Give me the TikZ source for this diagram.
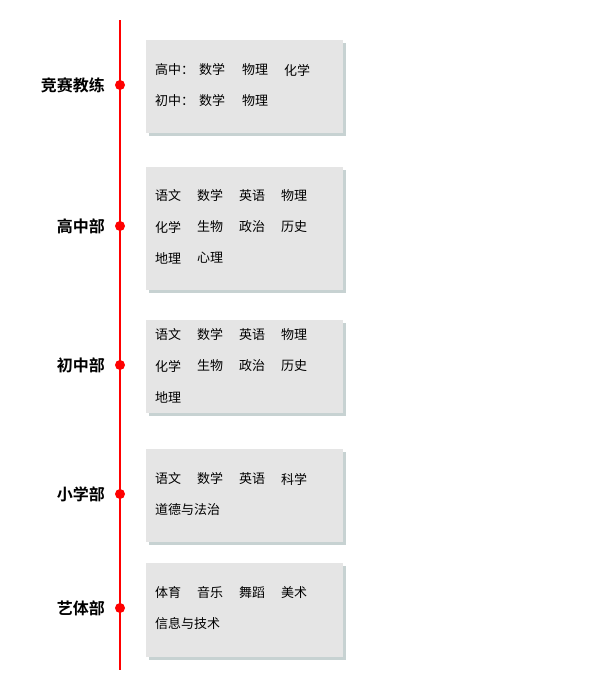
\documentclass[tikz,border=0pt]{standalone}
\usepackage{fontspec}
\newfontfamily\cjk{Noto Sans CJK SC}
\newfontfamily\cjkb{Noto Sans CJK SC Bold}
\begin{document}
\begin{tikzpicture}[x=1pt,y=-1pt,
  card/.style={fill=black!10,draw=none},
  shade/.style={fill=teal!25!gray!35,draw=none},
  word/.style={anchor=west,inner sep=0,font=\cjk\fontsize{13}{13}\selectfont},
  dept/.style={anchor=east,inner sep=0,font=\cjkb\fontsize{16}{16}\selectfont},
  dot/.style={circle,fill=red,inner sep=0,minimum size=10pt}]
\useasboundingbox (0,0) rectangle (607,691);
\draw[red,line width=1.6pt] (120,20) coordinate (ltop) -- (120,670) coordinate (lbot);
\newcommand\sect[5]{% name, top, bottom, dot y, label
  \fill[shade] (149,#2+3) rectangle (346,#3+3);
  \node[card,minimum width=197pt,minimum height=#3-#2,anchor=north west,inner sep=0] (#1box) at (146,#2) {};
  \node[dot] (#1dot) at (120,#4) {};
  \node[dept] (#1lab) at (105,#4) {#5};
}
\sect{a}{40}{133}{85}{竞赛教练}
\sect{b}{167}{290}{226}{高中部}
\sect{c}{320}{413}{365}{初中部}
\sect{d}{449}{542}{494}{小学部}
\sect{e}{563}{657}{608}{艺体部}
% box a
\node[word] (a1) at (155,70) {高中：};
\node[word] (a2) at (199,70) {数学};
\node[word] (a3) at (242,70) {物理};
\node[word] (a4) at (284,70) {化学};
\node[word] (a5) at (155,101) {初中：};
\node[word] (a6) at (199,101) {数学};
\node[word] (a7) at (242,101) {物理};
% box b
\foreach \w [count=\i from 0] in {语文,数学,英语,物理} \node[word] (b1\i) at (155+42*\i,196) {\w};
\foreach \w [count=\i from 0] in {化学,生物,政治,历史} \node[word] (b2\i) at (155+42*\i,227) {\w};
\foreach \w [count=\i from 0] in {地理,心理} \node[word] (b3\i) at (155+42*\i,258) {\w};
% box c
\foreach \w [count=\i from 0] in {语文,数学,英语,物理} \node[word] (c1\i) at (155+42*\i,335) {\w};
\foreach \w [count=\i from 0] in {化学,生物,政治,历史} \node[word] (c2\i) at (155+42*\i,366) {\w};
\node[word] (c30) at (155,397) {地理};
% box d
\foreach \w [count=\i from 0] in {语文,数学,英语,科学} \node[word] (d1\i) at (155+42*\i,479) {\w};
\node[word] (d20) at (155,510) {道德与法治};
% box e
\foreach \w [count=\i from 0] in {体育,音乐,舞蹈,美术} \node[word] (e1\i) at (155+42*\i,593) {\w};
\node[word] (e20) at (155,624) {信息与技术};
\end{tikzpicture}
\end{document}
